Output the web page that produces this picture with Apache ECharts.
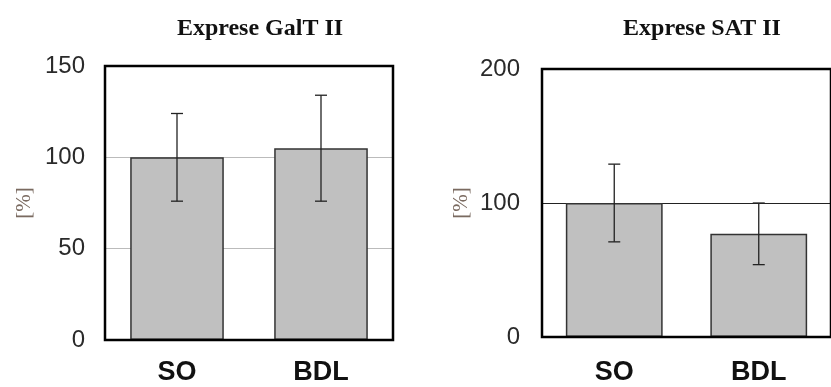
<!DOCTYPE html>
<html>
<head>
<meta charset="utf-8">
<script src="https://cdn.jsdelivr.net/npm/echarts@6/dist/echarts.min.js"></script>
<style>
html,body{margin:0;padding:0;background:#fff;}
#chart{width:831px;height:387px;}
</style>
</head>
<body>
<div id="chart"></div>
<script>
const categories = ['SO', 'BDL'];
const titles = ['Exprese GalT II', 'Exprese SAT II'];
const yAxisName = '[%]';

const galtMean = [100, 105];
const galtErrLow = [76, 76];
const galtErrHigh = [124, 134];

const satMean = [100, 77];
const satErrLow = [71, 54];
const satErrHigh = [129, 100];

const galtTicks = {min: 0, max: 150, interval: 50};
const satTicks = {min: 0, max: 200, interval: 100};

function errData(lo, hi) {
  return lo.map((l, i) => [i, l, hi[i]]);
}

function errRender(params, api) {
  const i = api.value(0);
  const p1 = api.coord([i, api.value(1)]);
  const p2 = api.coord([i, api.value(2)]);
  const hw = 6;
  const st = {stroke: '#222', lineWidth: 1.3};
  return {
    type: 'group',
    children: [
      {type: 'line', shape: {x1: p1[0], y1: p1[1], x2: p2[0], y2: p2[1]}, style: st},
      {type: 'line', shape: {x1: p1[0] - hw, y1: p1[1], x2: p1[0] + hw, y2: p1[1]}, style: st},
      {type: 'line', shape: {x1: p2[0] - hw, y1: p2[1], x2: p2[0] + hw, y2: p2[1]}, style: st}
    ]
  };
}

const tickFont = {fontFamily: 'Liberation Sans, Arial, sans-serif', fontSize: 24, color: '#2a2a2a'};
const catFont = {fontFamily: 'Liberation Sans, Arial, sans-serif', fontSize: 27, fontWeight: 'bold', color: '#111'};
const nameFont = {fontFamily: 'Liberation Serif, Times New Roman, serif', fontSize: 21, color: '#7a6a60'};
const titleFont = {fontFamily: 'Liberation Serif, Times New Roman, serif', fontSize: 24, fontWeight: 'bold', color: '#111'};

const chart = echarts.init(document.getElementById('chart'), null, {renderer: 'canvas'});
chart.setOption({
  animation: false,
  backgroundColor: '#fff',
  title: [
    {text: titles[0], left: 255, top: 12, textAlign: 'center', textStyle: titleFont},
    {text: titles[1], left: 697, top: 12, textAlign: 'center', textStyle: titleFont}
  ],
  grid: [
    {left: 105, top: 66, width: 288, height: 274, show: true, borderColor: '#000', borderWidth: 2.5, backgroundColor: 'transparent', z: 5},
    {left: 542, top: 69, width: 300, height: 268, show: true, borderColor: '#000', borderWidth: 2.5, backgroundColor: 'transparent', z: 5}
  ],
  xAxis: [
    {gridIndex: 0, type: 'category', data: categories, axisLine: {show: false}, axisTick: {show: false},
     axisLabel: Object.assign({margin: 19}, catFont)},
    {gridIndex: 1, type: 'category', data: categories, axisLine: {show: false}, axisTick: {show: false},
     axisLabel: Object.assign({margin: 22}, catFont)}
  ],
  yAxis: [
    {gridIndex: 0, type: 'value', min: galtTicks.min, max: galtTicks.max, interval: galtTicks.interval,
     axisLine: {show: false}, axisTick: {show: false},
     axisLabel: Object.assign({margin: 20}, tickFont),
     splitLine: {show: true, lineStyle: {color: '#bbb', width: 1}},
     name: yAxisName, nameLocation: 'middle', nameRotate: 90, nameGap: 70, nameTextStyle: nameFont},
    {gridIndex: 1, type: 'value', min: satTicks.min, max: satTicks.max, interval: satTicks.interval,
     axisLine: {show: false}, axisTick: {show: false},
     axisLabel: Object.assign({margin: 22}, tickFont),
     splitLine: {show: true, lineStyle: {color: '#222', width: 1}},
     name: yAxisName, nameLocation: 'middle', nameRotate: 90, nameGap: 70, nameTextStyle: nameFont}
  ],
  series: [
    {type: 'bar', xAxisIndex: 0, yAxisIndex: 0, data: galtMean, barWidth: '65%',
     itemStyle: {color: '#c0c0c0', borderColor: '#333', borderWidth: 1.5}},
    {type: 'custom', xAxisIndex: 0, yAxisIndex: 0, data: errData(galtErrLow, galtErrHigh),
     renderItem: errRender, encode: {x: 0, y: [1, 2]}, z: 10},
    {type: 'bar', xAxisIndex: 1, yAxisIndex: 1, data: satMean, barWidth: '67%',
     itemStyle: {color: '#c0c0c0', borderColor: '#333', borderWidth: 1.5}},
    {type: 'custom', xAxisIndex: 1, yAxisIndex: 1, data: errData(satErrLow, satErrHigh),
     renderItem: errRender, encode: {x: 0, y: [1, 2]}, z: 10}
  ]
});
</script>
</body>
</html>
